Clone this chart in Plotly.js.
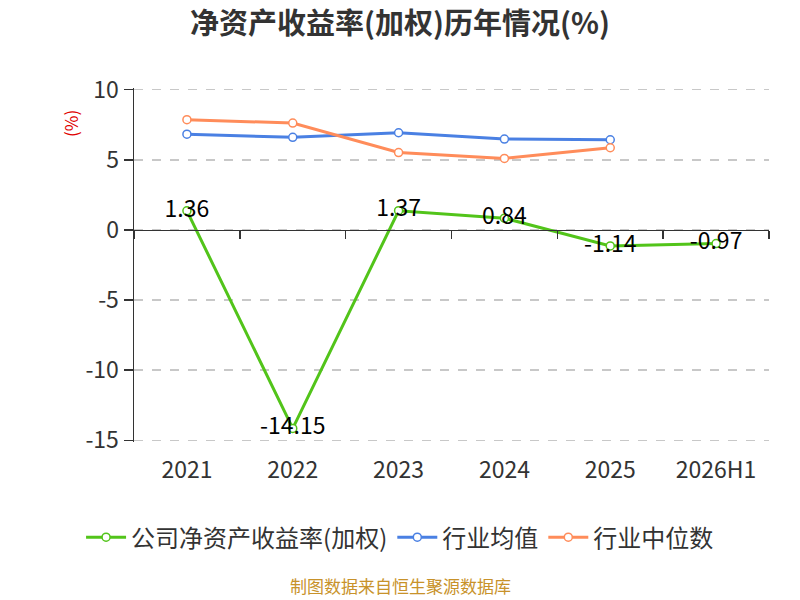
<!DOCTYPE html>
<html>
<head>
<meta charset="utf-8">
<script src="https://cdn.plot.ly/plotly-3.0.1.min.js"></script>
<style>
  html, body { margin: 0; padding: 0; background: #fff; }
  #chart { width: 800px; height: 600px; }
</style>
</head>
<body>
<div id="chart"></div>
<script>
// categories and series
var years = ['2021', '2022', '2023', '2024', '2025', '2026H1'];
var roeCompany = [1.36, -14.15, 1.37, 0.84, -1.14, -0.97];
var roeIndustryMean = [6.83, 6.6, 6.93, 6.48, 6.43, null];
var roeIndustryMedian = [7.86, 7.62, 5.52, 5.1, 5.86, null];
var yTicks = [-15, -10, -5, 0, 5, 10];

var FONT = '"Noto Sans CJK SC", "Noto Sans", sans-serif';

function lineTrace(name, values, color, withText) {
  var t = {
    type: 'scatter',
    mode: withText ? 'lines+markers+text' : 'lines+markers',
    name: name,
    x: years,
    y: values,
    line: { color: color, width: 3 },
    marker: { symbol: 'circle', size: 8, color: '#fff', line: { color: color, width: 1.5 } },
    cliponaxis: false,
    hoverinfo: 'x+y'
  };
  if (withText) {
    t.text = values.map(function (v) { return v.toFixed(2); });
    t.textposition = 'middle center';
    t.textfont = { family: FONT, size: 23, color: '#000' };
  }
  return t;
}

var data = [
  lineTrace('公司净资产收益率(加权)', roeCompany, '#52c41a', true),
  lineTrace('行业均值', roeIndustryMean, '#4a80e3', false),
  lineTrace('行业中位数', roeIndustryMedian, '#ff8c5a', false)
];

// axis drawn at y = 0 carrying the boundary ticks
data.push({
  type: 'scatter', mode: 'markers', x: years, y: years.map(function () { return 0; }),
  xaxis: 'x2', marker: { opacity: 0 }, showlegend: false, hoverinfo: 'skip'
});

var yMin = -15.12, yMax = 10.12;

var layout = {
  width: 800,
  height: 600,
  margin: { l: 134, r: 31, t: 88.3, b: 158.3 },
  paper_bgcolor: '#fff',
  plot_bgcolor: '#fff',
  font: { family: FONT, color: '#333' },
  title: {
    text: '<b>净资产收益率(加权)历年情况(%)</b>',
    x: 0.5, xanchor: 'center', y: 0.96, yanchor: 'middle',
    font: { family: FONT, size: 29, color: '#333' }
  },
  xaxis: {
    type: 'category',
    range: [-0.5, 5.5],
    showline: false,
    showgrid: false,
    zeroline: false,
    ticks: '',
    ticklabelstandoff: 12,
    tickfont: { family: FONT, size: 23, color: '#333' },
    fixedrange: true
  },
  xaxis2: {
    type: 'category',
    overlaying: 'x',
    matches: 'x',
    anchor: 'free',
    position: (0 - yMin) / (yMax - yMin),
    side: 'bottom',
    showline: true,
    linecolor: '#333',
    linewidth: 1.5,
    ticks: 'outside',
    tickson: 'boundaries',
    ticklen: 8,
    tickwidth: 1.5,
    tickcolor: '#333',
    showticklabels: false,
    showgrid: false,
    zeroline: false
  },
  yaxis: {
    range: [yMin, yMax],
    tickvals: yTicks,
    ticktext: yTicks.map(String),
    showline: true,
    linecolor: '#333',
    linewidth: 1.5,
    ticks: 'outside',
    ticklen: 9,
    tickwidth: 1.5,
    tickcolor: '#333',
    tickfont: { family: FONT, size: 23, color: '#333' },
    showgrid: true,
    gridcolor: '#c8c8c8',
    griddash: 'dash',
    gridwidth: 1.5,
    zeroline: false,
    fixedrange: true
  },
  showlegend: true,
  legend: {
    orientation: 'h',
    x: 0.419, xanchor: 'center',
    y: -0.27, yanchor: 'middle',
    font: { family: FONT, size: 24, color: '#333' },
    itemwidth: 40,
    tracegroupgap: 0
  },
  annotations: [
    {
      text: '(%)', xref: 'paper', yref: 'paper',
      x: -0.1, y: 0.9, xanchor: 'center', yanchor: 'middle',
      textangle: -90, showarrow: false,
      font: { family: FONT, size: 17, color: '#e00000' }
    },
    {
      text: '制图数据来自恒生聚源数据库', xref: 'paper', yref: 'paper',
      x: 0.419, y: -0.405, xanchor: 'center', yanchor: 'middle', showarrow: false,
      font: { family: FONT, size: 17, color: '#c8922a' }
    }
  ]
};

Plotly.newPlot('chart', data, layout, { displayModeBar: false, staticPlot: true });
</script>
</body>
</html>
